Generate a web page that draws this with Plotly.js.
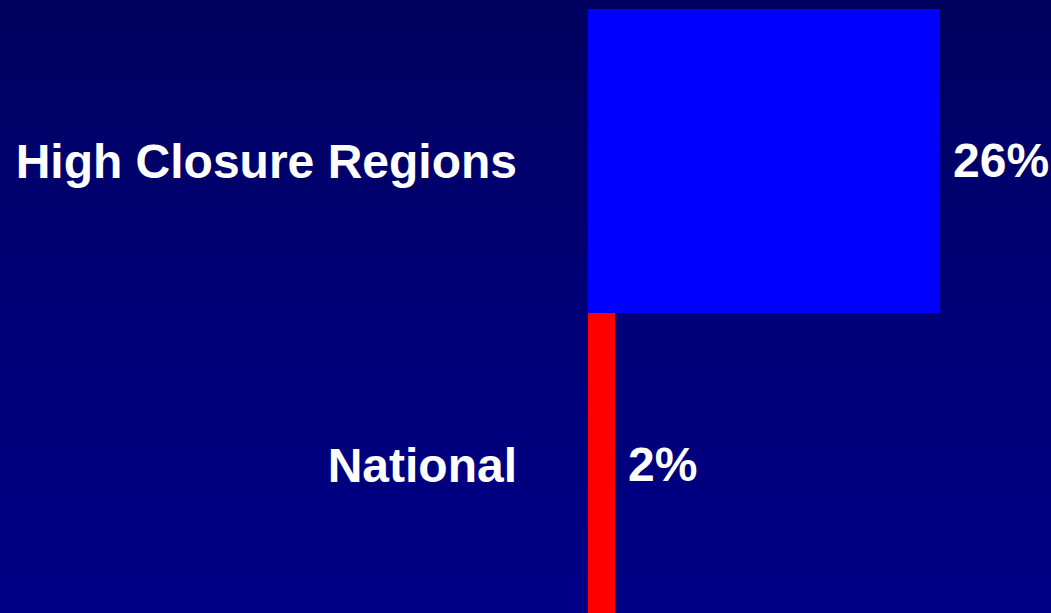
<!DOCTYPE html>
<html>
<head>
<meta charset="utf-8">
<script src="https://cdn.plot.ly/plotly-3.0.1.min.js"></script>
<style>
html,body{margin:0;padding:0;width:1051px;height:613px;overflow:hidden;
background:linear-gradient(to bottom,#00005e 0%,#000074 45%,#000086 100%);}
#chart{width:1051px;height:613px;}
</style>
</head>
<body>
<div id="chart"></div>
<script>
const categories = ["National", "High Closure Regions"];
const values = [2, 26];
const valueLabels = ["2%", "26%"];
const barColors = ["#ff0000", "#0000ff"];

const fontFamily = "Liberation Sans, Arial, sans-serif";

const trace = {
  type: "bar",
  orientation: "h",
  x: values,
  y: categories,
  marker: {color: barColors, line: {width: 0}},
  hoverinfo: "none"
};

const annotations = categories.map((c, i) => ({
  x: values[i], y: c, xref: "x", yref: "y",
  text: "<b>" + valueLabels[i] + "</b>",
  showarrow: false, xanchor: "left", yanchor: "middle", xshift: 11,
  font: {family: fontFamily, size: 48, color: "#ffffff"}
}));

const layout = {
  width: 1051, height: 613,
  margin: {l: 588, r: 0, t: 9, b: 0},
  paper_bgcolor: "rgba(0,0,0,0)",
  plot_bgcolor: "rgba(0,0,0,0)",
  bargap: 0,
  showlegend: false,
  xaxis: {range: [0, 34.2], showgrid: false, zeroline: false, showticklabels: false, showline: false, fixedrange: true},
  yaxis: {
    type: "category",
    range: [-0.487, 1.5],
    showgrid: false, zeroline: false, showline: false,
    ticks: "", ticklabelstandoff: 70,
    tickfont: {family: fontFamily, size: 48, color: "#ffffff", weight: "bold"}
  },
  annotations: annotations
};

Plotly.newPlot("chart", [trace], layout, {staticPlot: true, displayModeBar: false});
</script>
</body>
</html>
